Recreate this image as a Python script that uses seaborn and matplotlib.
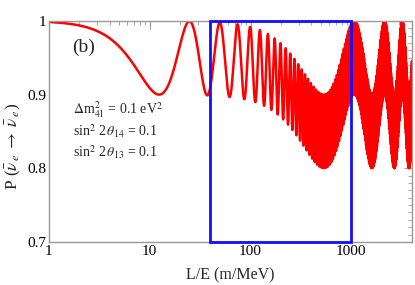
import numpy as np
import pandas as pd
import matplotlib
matplotlib.use("Agg")
import matplotlib.pyplot as plt
import seaborn as sns
from matplotlib.ticker import FixedLocator, NullFormatter, MultipleLocator
from matplotlib.patches import Rectangle

# --- chart data (parameters printed on the chart) ---
dm41_sq = 0.1          # eV^2
sin2_2th14 = 0.1
sin2_2th13 = 0.1
dm31_sq = 2.32e-3      # eV^2, read from envelope minimum (~530 m/MeV)
le_range = [1, 4000]   # m/MeV
box_le = [40, 1000]    # highlighted L/E window
box_p = [0.7, 1.0]
x_major = [1, 10, 100, 1000]
x_labels = ["1", "10", "100", "1000"]
y_major = [0.7, 0.8, 0.9, 1.0]
y_labels = ["0.7", "0.8", "0.9", "1"]

le = np.geomspace(le_range[0], le_range[1], 400000)
prob = (1 - sin2_2th13 * np.sin(1.27 * dm31_sq * le) ** 2
          - sin2_2th14 * np.sin(1.27 * dm41_sq * le) ** 2)
df = pd.DataFrame({"LE": le, "P": prob})

sns.set_theme(style="white")
plt.rcParams["font.family"] = ["Liberation Serif", "DejaVu Serif"]
plt.rcParams["mathtext.fontset"] = "stix"

fig = plt.figure(figsize=(4.15, 2.85), dpi=100)
ax = fig.add_axes([0.118, 0.151, 0.875, 0.776])

sns.lineplot(data=df, x="LE", y="P", estimator=None, sort=False,
             color="#ff0000", linewidth=1.8, ax=ax)

ax.set_xscale("log")
ax.set_xlim(le_range[0], le_range[1])
ax.set_ylim(box_p[0], box_p[1])

ax.add_patch(Rectangle((box_le[0], box_p[0]), box_le[1] - box_le[0],
                       box_p[1] - box_p[0], fill=False, edgecolor="#1010ff",
                       linewidth=2.0, clip_on=False, zorder=5))

ax.xaxis.set_major_locator(FixedLocator(x_major))
ax.set_xticklabels(x_labels)
minors = [m * d for d in [1, 10, 100, 1000] for m in range(2, 10)]
ax.xaxis.set_minor_locator(FixedLocator(minors))
ax.xaxis.set_minor_formatter(NullFormatter())
ax.set_yticks(y_major)
ax.set_yticklabels(y_labels)
ax.yaxis.set_minor_locator(MultipleLocator(0.01))

for s in ax.spines.values():
    s.set_color("#999999")
    s.set_linewidth(1.0)
ax.tick_params(which="both", direction="in", top=True, right=True,
               color="#999999", labelsize=11, labelcolor="black", pad=2)
ax.tick_params(which="major", length=6, width=0.8)
ax.tick_params(which="minor", length=3, width=0.6)

ax.set_xlabel("L/E (m/MeV)", fontsize=11.5, labelpad=7)
ax.set_ylabel(r"P ($\bar{\nu}_{\,e} \;\rightarrow\; \bar{\nu}_{\,e}$)", fontsize=12.5, labelpad=2)
ax.yaxis.set_label_coords(-0.072, 0.43)

ax.text(0.063, 0.88, "(b)", transform=ax.transAxes, fontsize=14, va="center")
ax.text(0.065, 0.596, r"$\Delta$m$^2_{41}$ = 0.1 eV$^2$", transform=ax.transAxes,
        fontsize=10, va="center")
ax.text(0.065, 0.501, r"sin$^2$ 2$\,\theta_{14}$ = 0.1", transform=ax.transAxes,
        fontsize=10, va="center")
ax.text(0.065, 0.406, r"sin$^2$ 2$\,\theta_{13}$ = 0.1", transform=ax.transAxes,
        fontsize=10, va="center")

fig.savefig("out.png", dpi=100)
